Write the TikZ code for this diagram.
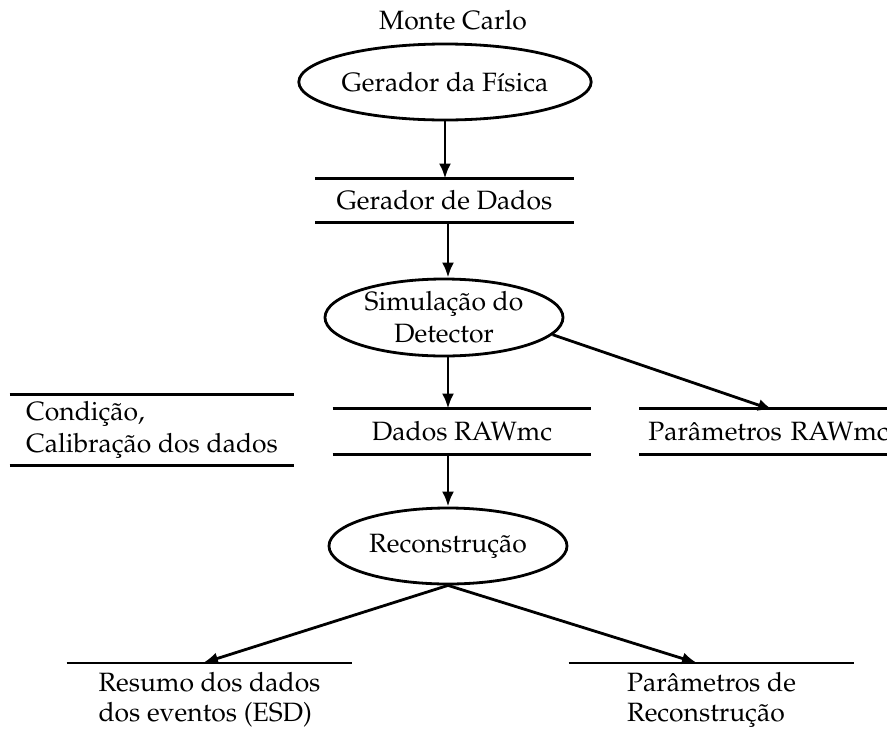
\documentclass[tikz,border=0pt]{standalone}
\usepackage[T1]{fontenc}
\usepackage{mathpazo}
\usetikzlibrary{shapes.geometric,arrows.meta,calc}
\begin{document}
\begin{tikzpicture}[x=1pt,y=-1pt,line width=2.8pt,
  every node/.style={font=\fontsize{26.5}{32}\selectfont},
  ell/.style={ellipse,draw,minimum width=238pt,minimum height=76pt,inner sep=0pt,align=center},
  bar/.style={rectangle,inner sep=0pt},
  low/.style={bar,anchor=north,minimum width=283pt,inner ysep=8pt,align=left,font=\fontsize{26.5}{29.5}\selectfont},
  arr/.style={-{Latex[length=15pt,width=12pt]}}]
\useasboundingbox (0,0) rectangle (887,729);

\node[anchor=base] (mc) at (453,29) {Monte Carlo};

\node[ell] (gf) at (445,82) {Gerador da F\'{\i}sica};

\node[bar,minimum width=256pt,minimum height=41pt] (gd) at (444.5,200.5) {Gerador de Dados};
\draw (gd.north west) -- (gd.north east) (gd.south west) -- (gd.south east);

\node[ell,minimum height=77pt] (sd) at (444,317.5) {Simula\c{c}\~ao do\\Detector};

\node[bar,minimum width=256pt,minimum height=43pt] (dr) at (462,431.5) {Dados RAWmc};
\draw (dr.north west) -- (dr.north east) (dr.south west) -- (dr.south east);

\node[bar,anchor=west,minimum height=43pt,text width=250pt,inner xsep=8pt] (pr) at (639,431.5) {Par\^ametros RAWmc};
\draw (pr.north west) -- (pr.north east) (pr.south west) -- (pr.south east);

\node[bar,minimum width=282pt,minimum height=68pt,align=left] (cc) at (152,430) {Condi\c{c}\~ao,\\Calibra\c{c}\~ao dos dados};
\draw (cc.north west) -- (cc.north east) (cc.south west) -- (cc.south east);

\node[ell] (rc) at (448,546) {Reconstru\c{c}\~ao};

\node[low] (esd) at (209.5,663) {Resumo dos dados\\dos eventos (ESD)};
\draw (esd.north west) -- (esd.north east);

\node[low] (prc) at (711.5,663) {Par\^ametros de\\Reconstru\c{c}\~ao};
\draw (prc.north west) -- (prc.north east);

\coordinate (prT) at (773,410);
\coordinate (esdT) at (203,663);
\coordinate (prcT) at (697,663);

\draw[arr] (gf.south) -- (gf.south |- gd.north);
\draw[arr] (gd.south -| sd.north) ++(4,0) -- ($(sd.north)+(4,0)$);
\draw[arr] (sd.south) ++(4,0) -- ($(sd.south |- dr.north)+(4,0)$);
\draw[arr] (sd.-9) -- (prT);
\draw[arr] (rc.north |- dr.south) -- (rc.north);
\draw[arr] (rc.south) -- (esdT);
\draw[arr] (rc.south) -- (prcT);
\end{tikzpicture}
\end{document}
